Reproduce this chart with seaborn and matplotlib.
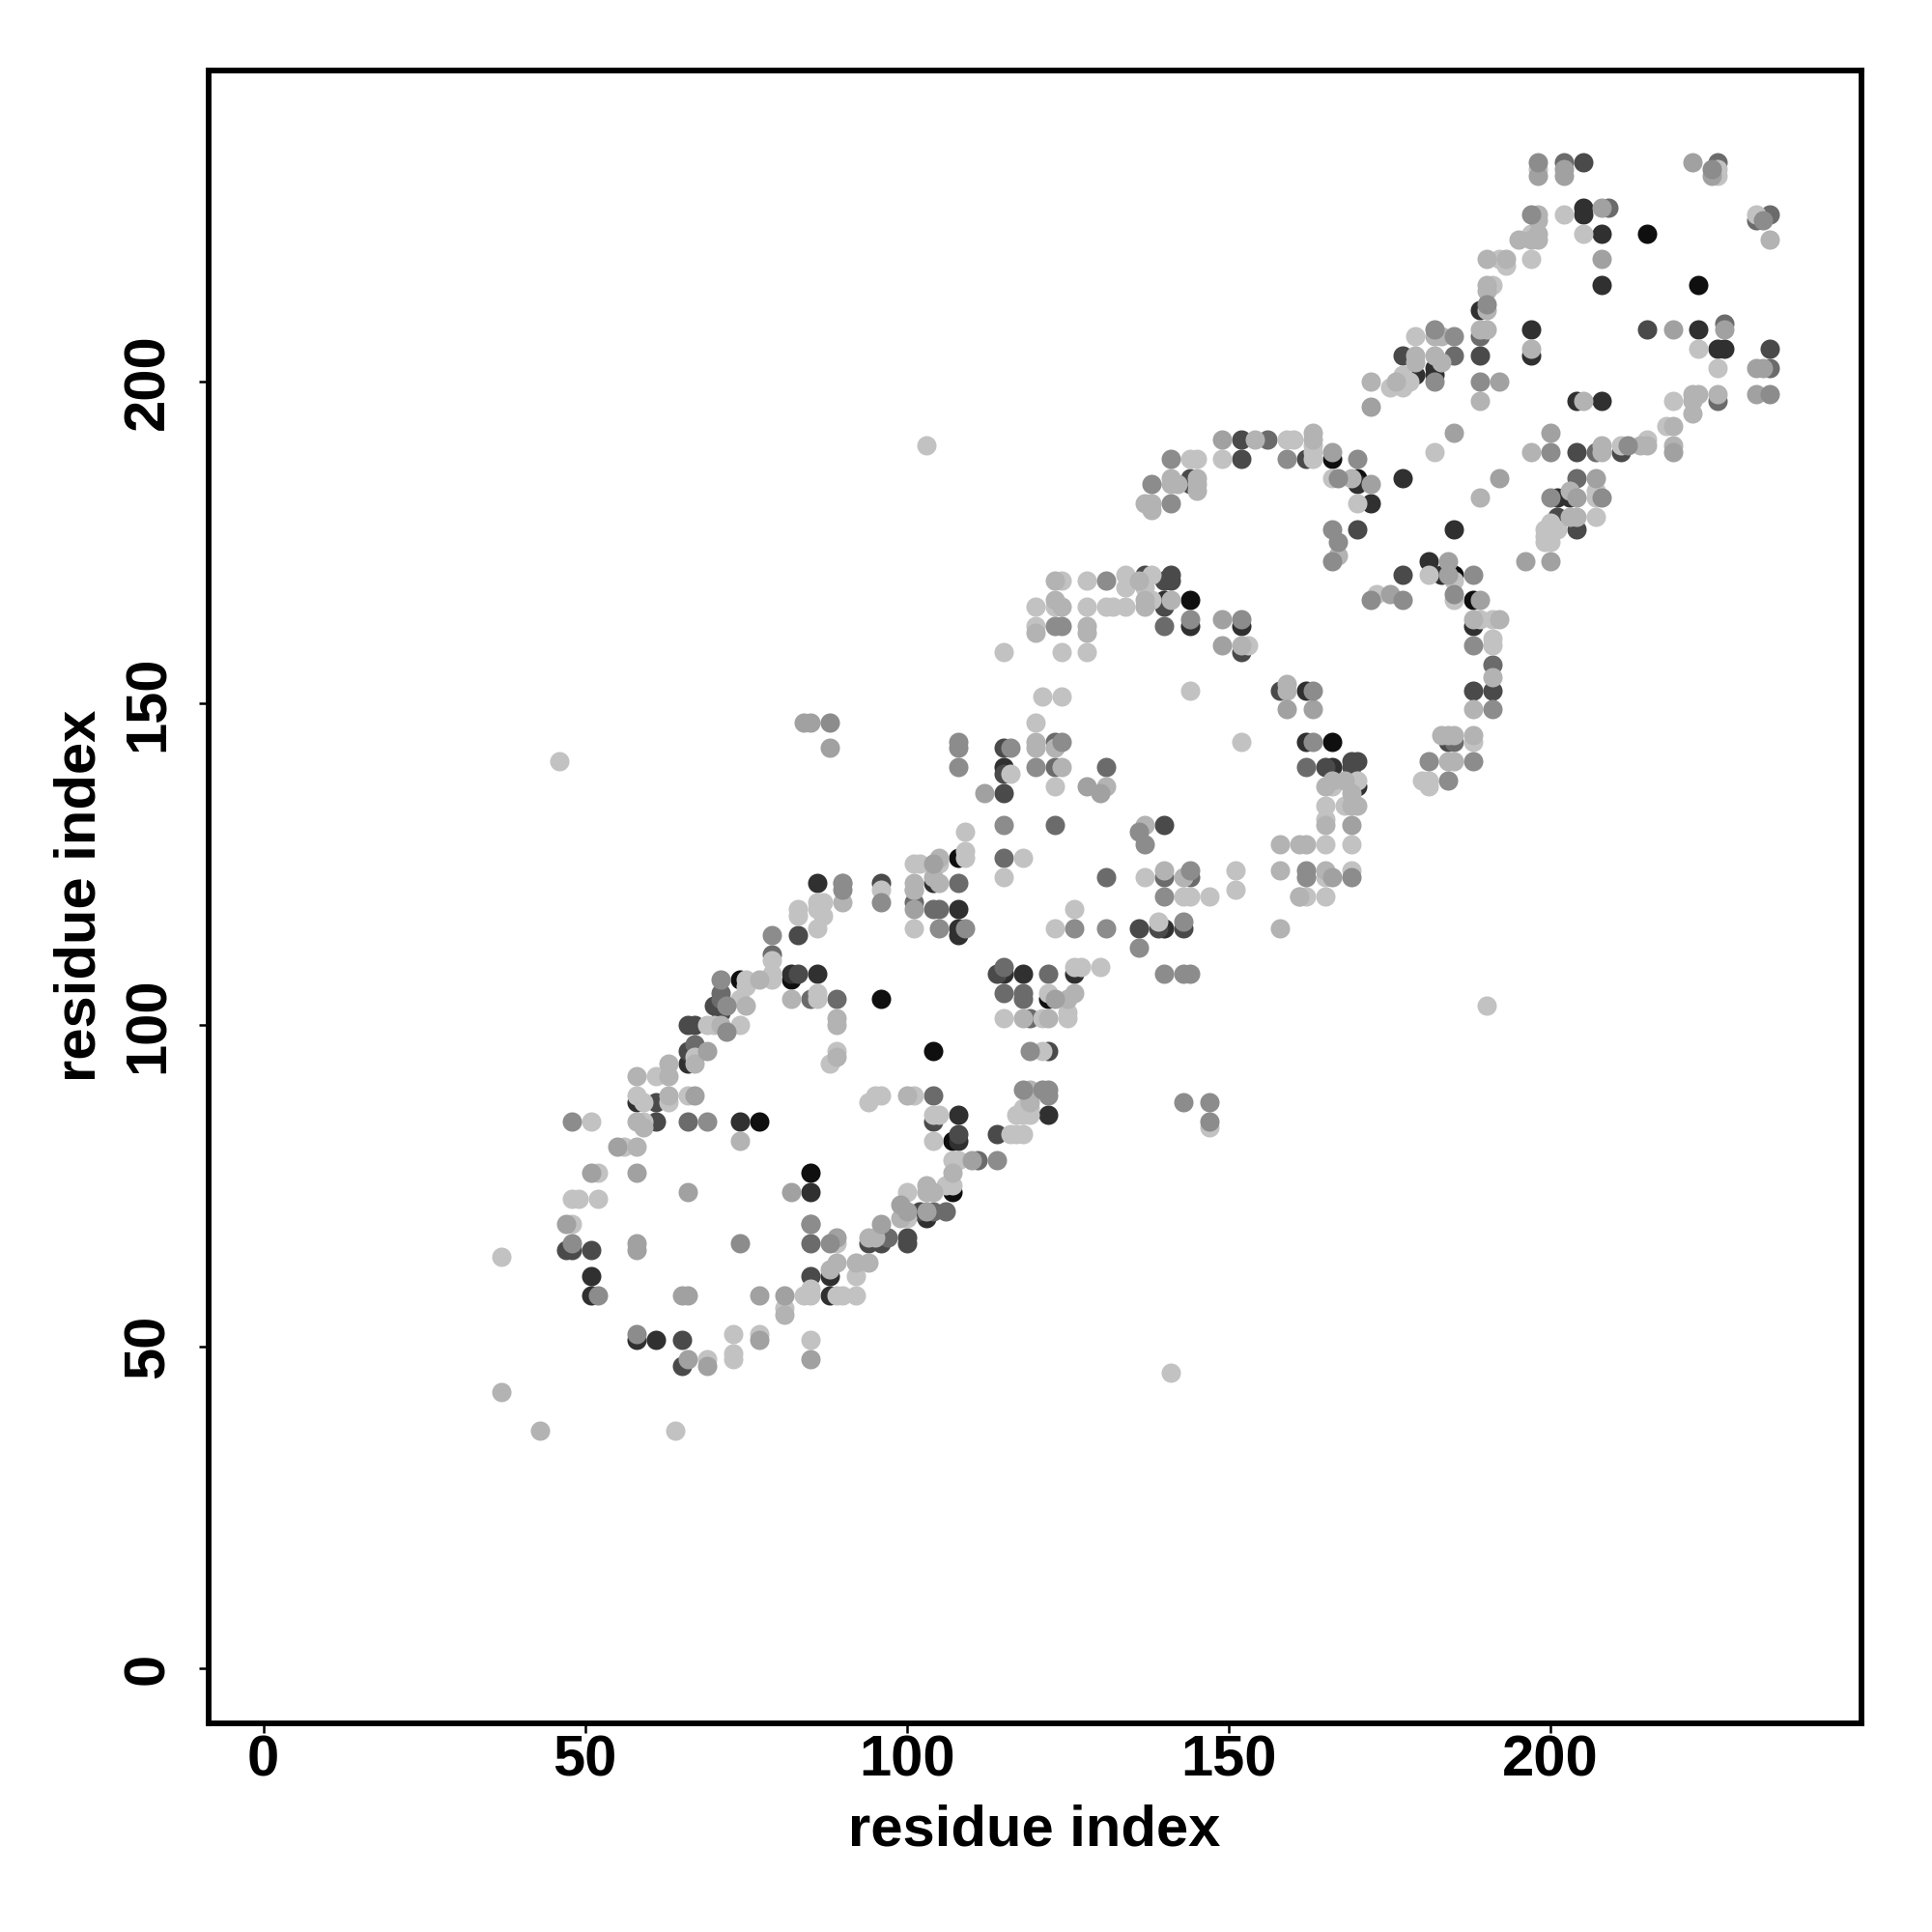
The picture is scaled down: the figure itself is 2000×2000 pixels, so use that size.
import numpy as np
import matplotlib
matplotlib.use("Agg")
import matplotlib.pyplot as plt
import seaborn as sns

# contact positions (x, y) grouped by grey level, darkest first
contacts_black = [(77,85),(85,77),(74,107),(82,107),(96,104),(104,96),(107,74),(107,82),(122,104),
    (108,126),(166,144),(144,166),(166,188),(188,166),(170,185),(185,170),(215,223),(223,215)]
contacts_dark = [(58,51),(61,51),(51,61),(51,58),(88,58),(74,85),(85,74),(82,108),(86,108),(108,86),(104,122),
    (108,118),(108,115),(108,114),(115,140),(88,61),(66,94),(58,88),(115,108),(118,108),(126,108),
    (140,115),(185,177),(177,185),(170,184),(172,181),(181,172),(183,170),(208,223),(205,227),(205,226),
    (223,208),(226,205),(227,205),(182,201),(179,201),(182,202),(197,204),(197,208),(204,197),(208,197),
    (201,182),(203,182),(208,215),(189,211),(188,162),(162,144),(162,152),(152,162),(144,162),(166,140),
    (170,137),(108,82),(122,86),(86,122),(140,166),(103,70)]
contacts_dim = [(65,51),(65,47),(47,65),(48,65),(51,65),(61,88),(85,61),(104,85),(108,83),(114,83),
    (66,100),(67,100),(66,96),(70,103),(71,102),(100,67),(100,66),(96,66),(94,66),(96,122),(115,139),
    (115,136),(115,143),(136,115),(139,115),(143,115),(114,108),(137,170),(141,170),(140,169),(141,169),
    (152,158),(158,152),(165,140),(169,141),(170,141),(169,140),(188,152),(191,152),(177,170),(170,177),
    (177,204),(189,204),(234,205),(205,234),(215,208),(204,189),(211,189),(201,179),(204,177),(140,131),
    (140,165),(122,96),(152,191),(152,188),(162,188),(144,185),(144,184),(184,144),(83,114),(102,71),
    (83,108),(61,85)]
contacts_mid = [(66,85),(85,66),(71,104),(71,105),(67,97),(104,89),(89,104),(85,104),(104,71),(106,71),
    (111,79),(108,122),(104,118),(105,118),(101,119),(115,109),(118,105),(118,104),(122,108),(115,105),
    (119,101),(123,144),(123,140),(131,140),(140,123),(144,123),(131,123),(123,131),(140,162),(162,140),
    (185,144),(191,156),(156,191),(202,234),(226,234),(234,226),(234,202),(232,225),(189,207),(185,204),
    (209,227),(207,189),(204,185),(227,209),(226,197),(115,126),(97,67),(79,111)]
contacts_pale = [(37,64),(64,37),(73,48),(73,49),(73,52),(77,52),(85,51),(69,48),(85,58),(84,58),(89,58),(90,58),
    (92,58),(81,56),(92,61),(85,59),(89,66),(100,74),(100,70),(52,77),(48,73),(49,73),(52,73),(48,69),
    (56,81),(51,85),(59,85),(61,92),(58,89),(59,88),(63,88),(66,89),(67,95),(69,100),(70,100),(74,100),
    (74,104),(75,107),(75,106),(79,107),(79,108),(86,104),(86,105),(89,96),(88,94),(94,88),(95,89),(96,89),(101,89),
    (105,86),(104,86),(104,82),(116,83),(117,83),(118,83),(121,151),(124,151),(120,147),(144,152),(152,144),
    (116,139),(123,137),(109,130),(109,127),(109,126),(105,125),(102,125),(101,125),(118,126),(115,123),
    (96,121),(101,121),(83,118),(83,117),(86,119),(87,119),(86,118),(87,117),(86,115),(137,123),(151,124),
    (151,121),(143,120),(144,120),(147,120),(161,120),(162,120),(165,120),(126,118),(123,115),(139,116),
    (126,109),(127,109),(130,109),(122,105),(125,102),(125,101),(121,101),(115,101),(101,115),(121,96),
    (117,86),(118,87),(119,87),(118,86),(119,86),(147,84),(107,79),(108,79),(106,75),(107,75),(46,141),
    (141,46),(103,190),(190,103),(124,169),(128,169),(134,170),(134,168),(138,170),(137,168),(120,165),
    (123,165),(128,165),(131,165),(132,165),(134,165),(138,166),(120,162),(115,158),(124,158),(128,158),
    (153,159),(159,191),(160,191),(163,190),(163,189),(144,188),(145,188),(149,188),(163,188),(166,185),
    (170,181),(181,170),(185,169),(173,167),(185,166),(189,163),
    (191,163),(191,160),(191,159),(188,144),(180,138),(181,138),(181,137),(166,137),(170,138),(165,134),
    (168,134),(165,132),(165,128),(169,128),(169,124),(165,123),(198,233),(202,226),(226,233),
    (226,232),(232,226),(205,223),(197,223),(197,219),(193,218),(191,215),(179,207),(175,199),(177,199),
    (178,200),(177,201),(223,205),(226,202),(219,197),(218,193),(215,191),(211,190),(182,189),
    (207,183),(207,182),(207,179),(200,178),(199,177),(201,177),(199,176),(199,175),(200,175),(192,219),(79,110)]
contacts_light = [(37,43),(43,37),(81,55),(82,104),(58,81),(58,85),(59,84),(74,82),(58,92),(63,92),(63,94),
    (63,89),(67,94),(71,100),(77,107),(75,103),(89,101),(89,100),(89,95),(100,89),(94,67),
    (95,67),(92,63),(94,63),(88,62),(89,63),(103,75),(104,74),(103,74),(99,70),(107,77),(120,144),(120,143),
    (123,143),(124,140),(131,137),(101,122),(101,121),(104,123),(105,122),(105,126),(90,122),(90,119),
    (140,124),(143,123),(119,88),(119,90),(122,101),(118,101),(125,104),(126,105),(137,131),(158,124),
    (158,115),(161,128),(162,128),(161,120),(165,124),(158,128),(165,131),(166,138),(165,137),(168,138),
    (169,136),(169,134),(170,134),(123,169),(123,166),(124,165),(137,166),(137,165),(141,166),(136,169),
    (120,161),(128,162),(128,161),(152,159),(159,153),(159,152),(141,185),(141,184),(142,184),(145,185),
    (145,184),(145,183),(137,181),(138,181),(138,180),(163,192),(163,191),(154,191),(167,173),(169,185),
    (183,145),(184,145),(185,145),(188,145),(184,141),(185,141),(188,163),(188,149),(191,154),(192,163),
    (198,226),(198,225),(195,222),(198,223),(197,222),(198,222),(190,219),(193,219),(190,215),(190,214),
    (190,211),(182,207),(183,207),(189,208),(190,208),(197,205),(179,204),(179,203),(182,204),(183,203),
    (172,200),(176,200),(189,197),(205,197),(222,198),(223,198),(222,197),(222,195),(226,198),(219,193),
    (219,190),(215,190),(214,190),(208,190),(208,189),(197,189),(189,182),(203,183),(203,179),(204,179),
    (234,222)]
contacts_grey = [(69,47),(77,51),(85,48),(66,48),(65,58),(66,58),(77,58),(58,77),(51,77),(66,74),(82,74),
    (47,69),(58,66),(58,65),(55,81),(89,67),(96,69),(99,72),(100,71),(103,71),(69,96),(67,89),(85,69),
    (88,143),(84,147),(85,147),(112,136),(128,137),(130,136),(123,104),(104,125),(101,118),
    (149,191),(166,189),(149,163),(149,159),(159,149),(163,149),(172,184),(184,172),(189,166),(175,167),
    (198,232),(202,233),(202,232),(222,234),(225,232),(208,227),(227,208),(219,208),(208,219),(232,202),
    (233,202),(232,198),(192,200),(172,196),(219,189),(200,192),(185,192),(192,185),(207,185),(196,172),
    (200,172),(204,182),(184,170),(169,131),(166,123),(110,79),(81,58)]
contacts_steel = [(58,52),(52,58),(48,85),(69,85),(48,66),(72,103),(71,107),(72,99),(88,66),(74,66),(167,185),
    (105,115),(109,115),(108,143),(108,144),(108,140),(116,143),(120,140),(88,147),(115,131),
    (137,128),(136,130),(119,96),(140,120),(140,108),(143,108),(144,108),(143,88),(147,88),(147,85),(122,89),
    (121,90),(122,90),(118,90),(114,79),(126,115),(131,115),(136,112),(143,116),(144,124),(90,121),
    (90,122),(96,119),(131,169),(123,162),(124,162),(144,163),(152,163),(141,188),(159,188),(170,188),(138,184),
    (141,181),(166,177),(167,175),(166,172),(172,166),(177,166),(185,167),(188,170),(163,152),(163,144),
    (124,144),(181,141),(188,141),(184,138),(188,159),(191,149),(162,124),(162,123),(169,123),
    (198,234),(225,233),(197,226),(182,208),(185,207),(190,212),(189,200),(182,200),(200,182),(208,182),
    (200,189),(212,190),(233,225),(234,198),(79,114),(85,69)]

grey_levels = {"black": 0.06, "dark": 0.19, "dim": 0.29, "mid": 0.42,
               "pale": 0.76, "light": 0.70, "grey": 0.63, "steel": 0.55}
groups = [("black", contacts_black), ("dark", contacts_dark), ("dim", contacts_dim), ("mid", contacts_mid),
          ("pale", contacts_pale), ("light", contacts_light), ("grey", contacts_grey), ("steel", contacts_steel)]

x_ticks = [0, 50, 100, 150, 200]
y_ticks = [0, 50, 100, 150, 200]

sns.set_theme(style="white")
plt.rcParams["font.family"] = ["Liberation Sans", "DejaVu Sans"]
plt.rcParams["font.weight"] = "bold"

fig = plt.figure(figsize=(10, 10), dpi=200)
ax = fig.add_axes([0.108, 0.108, 0.8555, 0.8555])

for name, pts in groups:
    arr = np.array(pts)
    sns.scatterplot(x=arr[:, 0], y=arr[:, 1], color=str(grey_levels[name]), s=52, linewidth=0, ax=ax, legend=False)

ax.set_xlim(-8.5, 248.3)
ax.set_ylim(-8.55, 248.3)
ax.set_xticks(x_ticks)
ax.set_yticks(y_ticks)
ax.tick_params(axis="x", bottom=True, length=3.5, width=0.9, color="black", pad=0.8, labelsize=21.5, labelcolor="black")
ax.tick_params(axis="y", left=True, length=3.5, width=0.9, color="black", pad=9, labelsize=21.5, labelcolor="black")
for lab in ax.get_yticklabels():
    lab.set_rotation(90)
    lab.set_va("center")

for s in ax.spines.values():
    s.set_visible(True)
    s.set_color("black")
    s.set_linewidth(2.1)

fig.text(0.5355, 0.0525, "residue index", ha="center", va="center", fontsize=21.5, fontweight="bold", color="black")
fig.text(0.0415, 0.5365, "residue index", ha="center", va="center", rotation=90, fontsize=21.5, fontweight="bold", color="black")

fig.savefig("out.png", dpi=200)
